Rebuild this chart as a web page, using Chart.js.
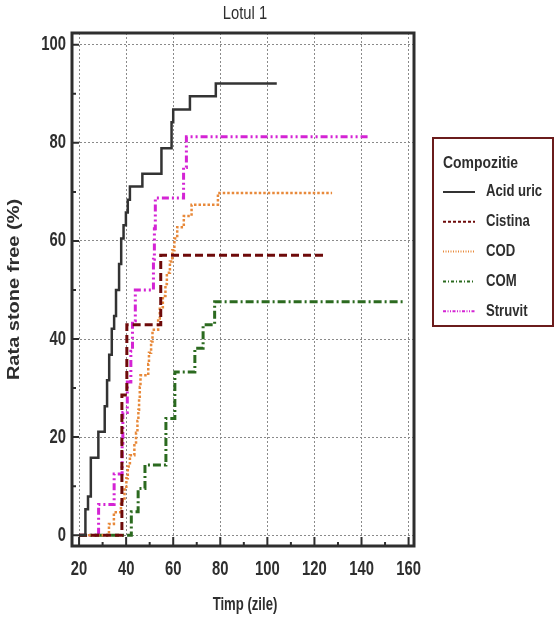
<!DOCTYPE html>
<html>
<head>
<meta charset="utf-8">
<title>Lotul 1</title>
<style>
body {
	margin: 0;
	background: #ffffff;
}
#chart-container {
	width: 560px;
	height: 621px;
}
</style>
</head>
<body>
<div id="chart-container"><canvas id="chart" width="560" height="621"></canvas></div>
<script src="https://cdn.jsdelivr.net/npm/chart.js@4.4.1/dist/chart.umd.min.js"></script>
<script>
	// step curves: day of each step and stone free rate (%) reached at that day
	var acidUricDays = [20, 22.7, 23.8, 25.0, 28.2, 30.9, 31.9, 32.8, 33.9, 34.9, 35.7, 37.0, 37.9, 38.9, 39.9, 40.7, 41.6, 46.9, 55.0, 59.3, 60.0, 67.1, 78.1, 104.0];
	var acidUricRate = [0, 5.3, 7.9, 15.8, 21.1, 26.3, 31.6, 36.8, 42.1, 44.7, 50.0, 55.3, 60.5, 63.2, 65.8, 68.4, 71.1, 73.7, 78.9, 84.2, 86.8, 89.5, 92.1, 92.1];

	var cistinaDays = [20, 38.2, 40.3, 54.7, 125.1];
	var cistinaRate = [0, 28.6, 42.9, 57.1, 57.1];

	var codDays = [20, 32.7, 34.8, 37.8, 39.3, 40.1, 40.7, 41.6, 43.5, 44.2, 44.8, 45.2, 45.5, 45.8, 46.1, 49.4, 49.7, 50.6, 51.2, 53.6, 54.3, 55.6, 56.7, 57.3, 58.6, 59.6, 60.5, 61.7, 64.5, 67.8, 79.0, 127.5];
	var codRate = [0, 2.3, 4.7, 7.0, 9.3, 11.6, 14.0, 16.3, 18.6, 20.9, 23.3, 25.6, 27.9, 30.2, 32.6, 34.9, 37.2, 39.5, 41.9, 44.2, 46.5, 48.8, 51.2, 53.5, 55.8, 58.1, 60.5, 62.8, 65.1, 67.4, 69.8, 69.8];

	var comDays = [20, 42.2, 45.1, 48.0, 56.9, 60.7, 69.2, 72.7, 77.6, 158.0];
	var comRate = [0, 4.8, 9.5, 14.3, 23.8, 33.3, 38.1, 42.9, 47.6, 47.6];

	var struvitDays = [20, 28.3, 34.9, 38.3, 38.6, 40.5, 42.0, 42.7, 43.9, 51.6, 52.0, 52.4, 64.4, 65.6, 143.1];
	var struvitRate = [0, 6.25, 12.5, 18.75, 25, 31.25, 37.5, 43.75, 50, 56.25, 62.5, 68.75, 75, 81.25, 81.25];

	var seriesLabels = ['Acid uric', 'Cistina', 'COD', 'COM', 'Struvit'];
	var legendTitle = 'Compozitie';
	var chartTitle = 'Lotul 1';
	var xTitle = 'Timp (zile)';
	var yTitle = 'Rata stone free (%)';

	var xTicks = [20, 40, 60, 80, 100, 120, 140, 160];
	var xMinorTicks = [30, 50, 70, 90, 110, 130, 150];
	var yTicks = [0, 20, 40, 60, 80, 100];
	var yMinorTicks = [10, 30, 50, 70, 90];

	var sans = '"Liberation Sans", Arial, sans-serif';
	var ink = '#2e2e2e';

	function toPoints(days, rate) {
		var pts = [];
		for (var i = 0; i < days.length; i++) {
			pts.push({x: days[i], y: rate[i]});
		}
		return pts;
	}

	function makeSeries(label, days, rate, color, width, dash, legendDash) {
		return {
			label: label,
			data: toPoints(days, rate),
			borderColor: color,
			backgroundColor: color,
			borderWidth: width,
			borderDash: dash,
			legendDash: legendDash,
			stepped: 'before',
			pointRadius: 0,
			fill: false
		};
	}

	// the source text is tall and narrow, so squeeze it horizontally
	function narrowText(ctx, text, x, y, align, font, squeeze) {
		ctx.save();
		ctx.translate(x, y);
		ctx.scale(squeeze, 1);
		ctx.font = font;
		ctx.textAlign = align;
		ctx.textBaseline = 'middle';
		ctx.fillText(text, 0, 0);
		ctx.restore();
	}

	// frame, inner ticks, tick labels, titles and boxed legend
	var decorPlugin = {
		id: 'decor',
		afterDraw: function(chart) {
			var ctx = chart.ctx;
			var area = chart.chartArea;
			var xs = chart.scales.x;
			var ys = chart.scales.y;
			var tickFont = 'bold 20px ' + sans;
			ctx.save();
			ctx.setLineDash([]);
			ctx.strokeStyle = ink;
			ctx.lineWidth = 2;
			ctx.beginPath();
			xTicks.forEach(function(v) {
				var px = xs.getPixelForValue(v);
				ctx.moveTo(px, area.bottom);
				ctx.lineTo(px, area.bottom - 9);
			});
			xMinorTicks.forEach(function(v) {
				var px = xs.getPixelForValue(v);
				ctx.moveTo(px, area.bottom);
				ctx.lineTo(px, area.bottom - 4);
			});
			yTicks.forEach(function(v) {
				var py = ys.getPixelForValue(v);
				ctx.moveTo(area.left, py);
				ctx.lineTo(area.left + 7, py);
			});
			yMinorTicks.forEach(function(v) {
				var py = ys.getPixelForValue(v);
				ctx.moveTo(area.left, py);
				ctx.lineTo(area.left + 4, py);
			});
			ctx.stroke();

			ctx.lineWidth = 3;
			ctx.strokeRect(area.left, area.top, area.right - area.left, area.bottom - area.top);

			ctx.fillStyle = ink;
			xTicks.forEach(function(v) {
				narrowText(ctx, String(v), xs.getPixelForValue(v), area.bottom + 23, 'center', tickFont, 0.74);
			});
			yTicks.forEach(function(v) {
				narrowText(ctx, String(v), area.left - 6, ys.getPixelForValue(v), 'right', tickFont, 0.74);
			});

			narrowText(ctx, chartTitle, (area.left + area.right) / 2 + 2, 14, 'center', '18px ' + sans, 0.82);
			narrowText(ctx, xTitle, (area.left + area.right) / 2 + 2, 605, 'center', 'bold 19px ' + sans, 0.69);

			// y axis title, stretched along its length like the source
			ctx.save();
			ctx.translate(15, (area.top + area.bottom) / 2);
			ctx.rotate(-Math.PI / 2);
			ctx.scale(1.25, 1);
			ctx.font = 'bold 16px ' + sans;
			ctx.textAlign = 'center';
			ctx.textBaseline = 'middle';
			ctx.fillText(yTitle, 0, 0);
			ctx.restore();

			// legend
			ctx.strokeStyle = '#6b1c1c';
			ctx.lineWidth = 2;
			ctx.strokeRect(433, 138, 120, 188);
			narrowText(ctx, legendTitle, 443, 163, 'left', 'bold 17px ' + sans, 0.82);
			chart.data.datasets.forEach(function(ds, i) {
				var ly = 192 + i * 29.8;
				ctx.strokeStyle = ds.borderColor;
				ctx.lineWidth = 2;
				ctx.setLineDash(ds.legendDash);
				ctx.beginPath();
				ctx.moveTo(443, ly);
				ctx.lineTo(475, ly);
				ctx.stroke();
				ctx.setLineDash([]);
				ctx.fillStyle = ink;
				narrowText(ctx, ds.label, 486, ly, 'left', 'bold 16px ' + sans, 0.82);
			});
			ctx.restore();
		}
	};

	var chart = new Chart(document.getElementById('chart'), {
		type: 'line',
		data: {
			datasets: [
				makeSeries(seriesLabels[0], acidUricDays, acidUricRate, '#333333', 2.5, [], []),
				makeSeries(seriesLabels[1], cistinaDays, cistinaRate, '#6e0a0a', 3, [8, 4], [3, 2]),
				makeSeries(seriesLabels[2], codDays, codRate, '#e8893a', 2.5, [2.5, 2], [1, 1.5]),
				makeSeries(seriesLabels[3], comDays, comRate, '#2b6a1f', 3, [8, 3, 2, 3], [3, 2, 1, 2]),
				makeSeries(seriesLabels[4], struvitDays, struvitRate, '#d424d4', 3, [7, 3, 2, 3, 2, 3], [3, 1.5, 1, 1.5, 1, 1.5])
			]
		},
		options: {
			responsive: false,
			animation: false,
			devicePixelRatio: 1,
			layout: {
				padding: {top: 33, right: 146, bottom: 0, left: 0}
			},
			plugins: {
				legend: {display: false},
				title: {display: false},
				tooltip: {enabled: false}
			},
			scales: {
				x: {
					type: 'linear',
					min: 17,
					max: 162.3,
					afterBuildTicks: function(scale) {
						scale.ticks = xTicks.map(function(v) { return {value: v}; });
					},
					afterFit: function(scale) {
						scale.height = 75;
					},
					grid: {color: '#8a8a8a', lineWidth: 1, drawTicks: false},
					border: {display: false, dash: [2, 2]},
					ticks: {display: false}
				},
				y: {
					type: 'linear',
					min: -2.2,
					max: 102.4,
					afterBuildTicks: function(scale) {
						scale.ticks = yTicks.map(function(v) { return {value: v}; });
					},
					afterFit: function(scale) {
						scale.width = 72;
					},
					grid: {color: '#8a8a8a', lineWidth: 1, drawTicks: false},
					border: {display: false, dash: [2, 2]},
					ticks: {display: false}
				}
			}
		},
		plugins: [decorPlugin]
	});
</script>
</body>
</html>
